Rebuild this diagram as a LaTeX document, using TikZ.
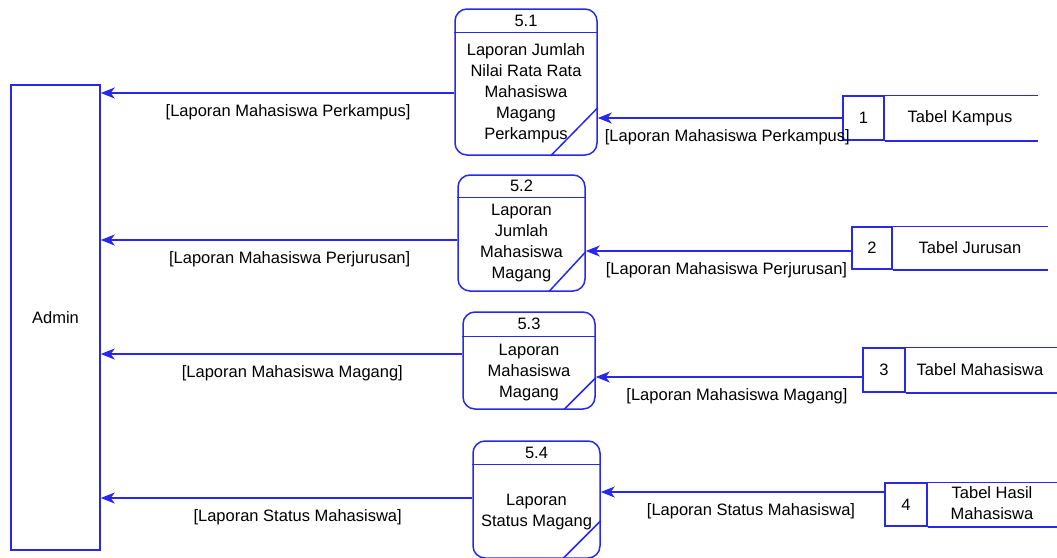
\documentclass[tikz,border=0pt]{standalone}
\usepackage{fontspec}
\setmainfont{Liberation Sans}
\usetikzlibrary{calc,positioning,arrows.meta}
\definecolor{dfdblue}{RGB}{40,40,235}

\begin{document}
\begin{tikzpicture}[x=1pt,y=-1pt,
	font=\fontsize{16.5}{21}\selectfont,
	dfdline/.style={draw=dfdblue, line width=1.5pt},
	flow/.style={dfdline, -{Stealth[length=14pt,width=11pt,inset=4pt]}},
	proc/.style={dfdline, rectangle, rounded corners=12pt, inner sep=0pt},
	idbox/.style={dfdline, rectangle, inner sep=0pt},
	lbl/.style={below=9pt, pos=0.47, inner sep=2pt}]
				\useasboundingbox (0,0) rectangle (1057,557);
				
				\node[idbox, minimum width=89pt, minimum height=465pt] (admin) at (55.5,317.5) {Admin};
				
				\node[proc, minimum width=142pt, minimum height=146pt] (p1) at (526,82) {};
				\node (n1) at (526,21) {5.1};
				\node[align=center] (t1) at (526,93.5) {Laporan Jumlah\\Nilai Rata Rata\\Mahasiswa\\Magang\\Perkampus};
				\draw[dfdline] ([yshift=-24pt]p1.north west) -- ([yshift=-24pt]p1.north east);
				\draw[dfdline] ([yshift=48pt]p1.south east) -- ([xshift=-47pt]p1.south east);
				
				\node[proc, minimum width=127pt, minimum height=116pt] (p2) at (521.5,233) {};
				\node (n2) at (521.5,186) {5.2};
				\node[align=center] (t2) at (521.5,243.5) {Laporan\\Jumlah\\Mahasiswa\\Magang};
				\draw[dfdline] ([yshift=-23pt]p2.north west) -- ([yshift=-23pt]p2.north east);
				\draw[dfdline] ([yshift=40pt]p2.south east) -- ([xshift=-37pt]p2.south east);
				
				\node[proc, minimum width=132pt, minimum height=97pt] (p3) at (529,360.5) {};
				\node (n3) at (529,324) {5.3};
				\node[align=center] (t3) at (529,373) {Laporan\\Mahasiswa\\Magang};
				\draw[dfdline] ([yshift=-25pt]p3.north west) -- ([yshift=-25pt]p3.north east);
				\draw[dfdline] ([yshift=32pt]p3.south east) -- ([xshift=-32pt]p3.south east);
				
				\node[proc, minimum width=127pt, minimum height=117pt] (p4) at (536.5,499.5) {};
				\node (n4) at (536.5,453) {5.4};
				\node[align=center] (t4) at (536.5,512) {Laporan\\Status Magang};
				\draw[dfdline] ([yshift=-24pt]p4.north west) -- ([yshift=-24pt]p4.north east);
				\draw[dfdline] ([yshift=38pt]p4.south east) -- ([xshift=-38pt]p4.south east);
				
				\node[idbox, minimum width=41pt, minimum height=44pt] (s1) at (863.5,118) {1};
				\draw[dfdline] (s1.north east) -- ++(153,0);
				\draw[dfdline] (s1.south east) -- ++(153,0);
				\node (s1n) at (960,118) {Tabel Kampus};
				
				\node[idbox, minimum width=40pt, minimum height=42pt] (s2) at (872,248) {2};
				\draw[dfdline] (s2.north east) -- ++(155,0);
				\draw[dfdline] (s2.south east) -- ++(155,0);
				\node (s2n) at (970,248) {Tabel Jurusan};
				
				\node[idbox, minimum width=42pt, minimum height=44pt] (s3) at (884,370) {3};
				\draw[dfdline] (s3.north east) -- ++(155,0);
				\draw[dfdline] (s3.south east) -- ++(155,0);
				\node (s3n) at (980,370) {Tabel Mahasiswa};
				
				\node[idbox, minimum width=42pt, minimum height=43pt] (s4) at (906,504.5) {4};
				\draw[dfdline] (s4.north east) -- ++(135,0);
				\draw[dfdline] (s4.south east) -- ++(135,0);
				\node[align=center] (s4n) at (992,503) {Tabel Hasil\\Mahasiswa};
				
				\draw[flow] ([yshift=-11pt]p1.west) coordinate (o1) -- (o1 -| admin.east) node[lbl] (l1) {[Laporan Mahasiswa Perkampus]};
				\draw[flow] (s1.west) -- (s1.west -| p1.east) node[lbl] (l2) {[Laporan Mahasiswa Perkampus]};
				
				\draw[flow] ([yshift=-7pt]p2.west) coordinate (o2) -- (o2 -| admin.east) node[lbl] (l3) {[Laporan Mahasiswa Perjurusan]};
				\draw[flow] ([yshift=-3pt]s2.west) coordinate (i2) -- (i2 -| p2.east) node[lbl] (l4) {[Laporan Mahasiswa Perjurusan]};
				
				\draw[flow] ([yshift=6.5pt]p3.west) coordinate (o3) -- (o3 -| admin.east) node[lbl] (l5) {[Laporan Mahasiswa Magang]};
				\draw[flow] ([yshift=-7pt]s3.west) coordinate (i3) -- (i3 -| p3.east) node[lbl] (l6) {[Laporan Mahasiswa Magang]};
				
				\draw[flow] ([yshift=1.5pt]p4.west) coordinate (o4) -- (o4 -| admin.east) node[lbl] (l7) {[Laporan Status Mahasiswa]};
				\draw[flow] ([yshift=12.5pt]s4.west) coordinate (i4) -- (i4 -| p4.east) node[lbl] (l8) {[Laporan Status Mahasiswa]};
\end{tikzpicture}
\end{document}
